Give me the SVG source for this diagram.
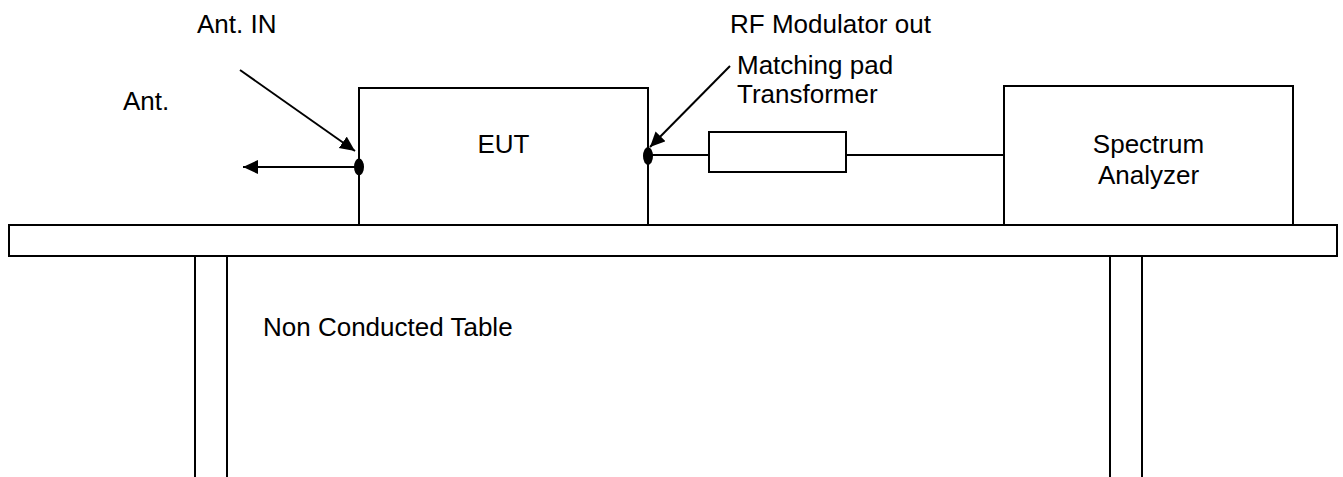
<svg xmlns="http://www.w3.org/2000/svg" width="1343" height="477" viewBox="0 0 1343 477">
  <style>
    .ln { stroke: #000; stroke-width: 2; fill: none; }
    .bx { stroke: #000; stroke-width: 2; fill: #fff; }
    .t { font-family: "Liberation Sans", Arial, sans-serif; font-size: 26px; fill: #000; }
    .c { text-anchor: middle; }
  </style>
  <defs>
    <marker id="arr" markerUnits="userSpaceOnUse" markerWidth="18" markerHeight="16" refX="15" refY="7" orient="auto">
      <path d="M0,0 L15,7 L0,14 Z" fill="#000"/>
    </marker>
  </defs>
  <rect width="1343" height="477" fill="#fff"/>

  <g id="table">
    <rect class="bx" x="9" y="225" width="1328" height="31"/>
    <line class="ln" x1="195" y1="256" x2="195" y2="477"/>
    <line class="ln" x1="227" y1="256" x2="227" y2="477"/>
    <line class="ln" x1="1110" y1="256" x2="1110" y2="477"/>
    <line class="ln" x1="1142" y1="256" x2="1142" y2="477"/>
    <text class="t" x="263" y="336">Non Conducted Table</text>
  </g>

  <g id="eut">
    <polyline class="ln" points="359,225 359,88 648,88 648,225"/>
    <text class="t c" x="503.5" y="153">EUT</text>
  </g>

  <g id="spectrum-analyzer">
    <polyline class="ln" points="1004,224 1004,86 1293,86 1293,224"/>
    <text class="t c" x="1148.5" y="153">Spectrum</text>
    <text class="t c" x="1148.5" y="184">Analyzer</text>
  </g>

  <g id="matching-pad">
    <rect class="bx" x="709" y="132" width="137" height="40"/>
  </g>

  <g id="connectors">
    <line class="ln" x1="648" y1="155" x2="709" y2="155"/>
    <line class="ln" x1="846" y1="155" x2="1004" y2="155"/>
    <line class="ln" x1="359" y1="167" x2="243" y2="167" marker-end="url(#arr)"/>
    <line class="ln" x1="240" y1="70" x2="355" y2="151" marker-end="url(#arr)"/>
    <line class="ln" x1="730" y1="66" x2="650" y2="147" marker-end="url(#arr)"/>
    <ellipse cx="359" cy="167" rx="5" ry="8.5" fill="#000"/>
    <ellipse cx="648" cy="156" rx="5" ry="9" fill="#000"/>
  </g>

  <g id="labels">
    <text class="t" x="197" y="33">Ant. IN</text>
    <text class="t" x="123" y="110">Ant.</text>
    <text class="t" x="730" y="33">RF Modulator out</text>
    <text class="t" x="737" y="74">Matching pad</text>
    <text class="t" x="737" y="103">Transformer</text>
  </g>
</svg>
